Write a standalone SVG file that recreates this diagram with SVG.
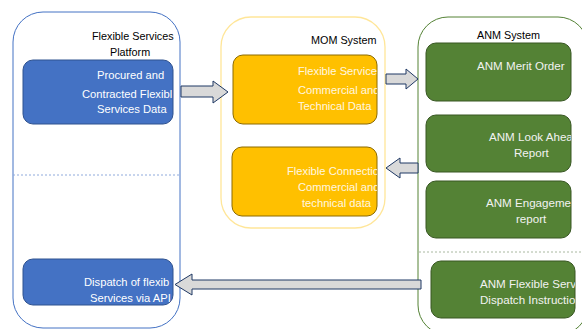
<svg xmlns="http://www.w3.org/2000/svg" width="582" height="329" viewBox="0 0 582 329">
<style>
.title{font-family:"Liberation Sans",Arial,sans-serif;font-size:10.8px;fill:#000}
.bt{font-family:"Liberation Sans",Arial,sans-serif;font-size:11.2px;fill:#FFFFFF}
.yt{font-family:"Liberation Sans",Arial,sans-serif;font-size:11.2px;fill:#FFF7E0}
.gt{font-family:"Liberation Sans",Arial,sans-serif;font-size:11.6px;fill:#F2F2F2}
.blue{fill:#4472C4;stroke:#2F528F;stroke-width:1}
.yel{fill:#FFC000;stroke:#8C6A00;stroke-width:1}
.grn{fill:#548235;stroke:#385723;stroke-width:1}
.arrow{fill:#D9D9D9;stroke:#1F3864;stroke-width:1}
</style>
<defs>
<clipPath id="cb1"><rect x="23" y="60" width="150" height="64" rx="10"/></clipPath>
<clipPath id="cb2"><rect x="23" y="259" width="150" height="46" rx="10"/></clipPath>
<clipPath id="cy1"><rect x="233" y="55" width="144" height="69" rx="10"/></clipPath>
<clipPath id="cy2"><rect x="232" y="147" width="145" height="69" rx="10"/></clipPath>
<clipPath id="cg1"><rect x="426" y="43" width="145" height="58" rx="10"/></clipPath>
<clipPath id="cg2"><rect x="426" y="115" width="145" height="57" rx="10"/></clipPath>
<clipPath id="cg3"><rect x="426" y="181" width="145" height="57" rx="10"/></clipPath>
<clipPath id="cg4"><rect x="431" y="261" width="144" height="57" rx="10"/></clipPath>
</defs>

<g id="fsp-container">
<rect x="13" y="12" width="167" height="316" rx="30" fill="#FFFFFF" stroke="#4472C4" stroke-width="1"/>
<line x1="13" y1="175" x2="180" y2="175" stroke="#8FAADC" stroke-width="1" stroke-dasharray="2,2"/>
<text class="title" x="92" y="40">Flexible Services</text>
<text class="title" x="110" y="56">Platform</text>
</g>
<g id="mom-container">
<rect x="221" y="17" width="164" height="211" rx="30" fill="#FFFFFF" stroke="#FFE699" stroke-width="1.3"/>
<text class="title" x="311" y="44">MOM System</text>
</g>
<g id="anm-container">
<rect x="418" y="17" width="170" height="318" rx="30" fill="#FFFFFF" stroke="#548235" stroke-width="1"/>
<line x1="419" y1="252" x2="582" y2="252" stroke="#A9B8A0" stroke-width="1" stroke-dasharray="2,2"/>
<text class="title" x="477" y="39">ANM System</text>
</g>

<g id="procured">
<rect class="blue" x="23" y="60" width="150" height="64" rx="10"/>
<g clip-path="url(#cb1)">
<text class="bt" x="97" y="79">Procured and</text>
<text class="bt" x="82" y="98">Contracted Flexibl</text>
<text class="bt" x="97" y="113">Services Data</text>
</g>
</g>
<g id="dispatch-api">
<rect class="blue" x="23" y="259" width="150" height="46" rx="10"/>
<g clip-path="url(#cb2)">
<text class="bt" x="84" y="286">Dispatch of flexib</text>
<text class="bt" x="90" y="302">Services via API</text>
</g>
</g>
<g id="fs-data">
<rect class="yel" x="233" y="55" width="144" height="69" rx="10"/>
<g clip-path="url(#cy1)">
<text class="yt" x="298" y="75">Flexible Service</text>
<text class="yt" x="298" y="94">Commercial and</text>
<text class="yt" x="298" y="110">Technical Data</text>
</g>
</g>
<g id="fc-data">
<rect class="yel" x="232" y="147" width="145" height="69" rx="10"/>
<g clip-path="url(#cy2)">
<text class="yt" x="287" y="175">Flexible Connectio</text>
<text class="yt" x="298" y="191">Commercial and</text>
<text class="yt" x="302" y="207">technical data</text>
</g>
</g>
<g id="merit">
<rect class="grn" x="426" y="43" width="145" height="58" rx="10"/>
<g clip-path="url(#cg1)">
<text class="gt" x="477" y="70">ANM Merit Order</text>
</g>
</g>
<g id="lookahead">
<rect class="grn" x="426" y="115" width="145" height="57" rx="10"/>
<g clip-path="url(#cg2)">
<text class="gt" x="489" y="141">ANM Look Ahea</text>
<text class="gt" x="514" y="157">Report</text>
</g>
</g>
<g id="engagement">
<rect class="grn" x="426" y="181" width="145" height="57" rx="10"/>
<g clip-path="url(#cg3)">
<text class="gt" x="486" y="207">ANM Engagemen</text>
<text class="gt" x="516" y="223">report</text>
</g>
</g>
<g id="dispatch-instr">
<rect class="grn" x="431" y="261" width="144" height="57" rx="10"/>
<g clip-path="url(#cg4)">
<text class="gt" x="480" y="288">ANM Flexible Serv</text>
<text class="gt" x="480" y="304">Dispatch Instructio</text>
</g>
</g>

<g id="connectors">
<path class="arrow" d="M181,86 H213 V81 L228,92 L213,103 V97 H181 Z"/>
<path class="arrow" d="M386,74 H406 V69 L418,79 L406,89 V84 H386 Z"/>
<path class="arrow" d="M418,163 H400 V158 L386,168 L400,178 V173 H418 Z"/>
<path class="arrow" d="M421,280 H192 V274 L175,284.5 L192,295 V289 H421 Z"/>
</g>
</svg>
